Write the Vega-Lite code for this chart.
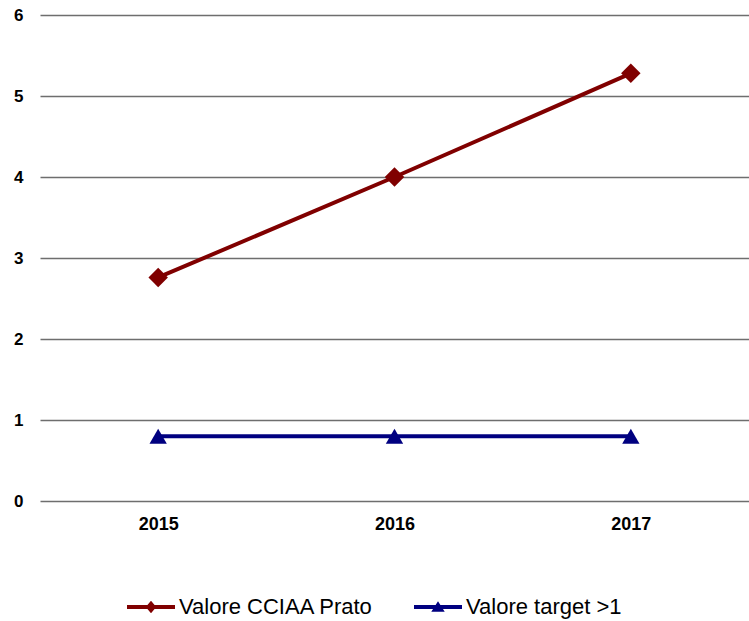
{
  "$schema": "https://vega.github.io/schema/vega-lite/v6.json",
  "width": 709,
  "height": 486,
  "autosize": {"type": "none"},
  "padding": {"left": 40, "top": 15, "right": 0, "bottom": 120},
  "background": "white",
  "config": {
    "view": {"stroke": null},
    "font": "Liberation Sans"
  },
  "data": {
    "values": [
      {"year": "2015", "series": "Valore CCIAA Prato", "value": 2.76},
      {"year": "2016", "series": "Valore CCIAA Prato", "value": 4.0},
      {"year": "2017", "series": "Valore CCIAA Prato", "value": 5.28},
      {"year": "2015", "series": "Valore target >1", "value": 0.8},
      {"year": "2016", "series": "Valore target >1", "value": 0.8},
      {"year": "2017", "series": "Valore target >1", "value": 0.8}
    ]
  },
  "encoding": {
    "x": {
      "field": "year", "type": "ordinal",
      "scale": {"type": "point", "padding": 0.5},
      "axis": {"title": null, "labelAngle": 0, "ticks": false, "domain": false, "grid": false,
               "labelFontSize": 18, "labelFontWeight": 600, "labelColor": "#000", "labelPadding": 14}
    },
    "y": {
      "field": "value", "type": "quantitative",
      "scale": {"domain": [0, 6], "nice": false},
      "axis": {"title": null, "values": [0, 1, 2, 3, 4, 5, 6], "ticks": false, "domain": false,
               "grid": true, "gridColor": "#6e6e6e", "gridWidth": 1.3, "gridOpacity": 1,
               "labelFontSize": 17, "labelFontWeight": 600, "labelColor": "#000", "labelPadding": 17}
    },
    "color": {
      "field": "series", "type": "nominal",
      "scale": {"domain": ["Valore CCIAA Prato", "Valore target >1"], "range": ["#800000", "#000080"]},
      "legend": {
        "orient": "none", "legendX": 87, "legendY": 568, "direction": "horizontal",
        "title": null, "padding": 0, "symbolSize": 2304, "symbolStrokeWidth": 0,
        "labelFontSize": 22, "labelColor": "#000", "labelOffset": 4, "columnPadding": 40, "labelLimit": 0,
        "encode": {
          "symbols": {
            "update": {
              "shape": {"signal": "datum.value === 'Valore CCIAA Prato' ? 'M-1,-0.08 L1,-0.08 L1,0.08 L-1,0.08 Z M0,-0.26 L0.22,0 L0,0.26 L-0.22,0 Z' : 'M-1,-0.08 L1,-0.08 L1,0.08 L-1,0.08 Z M0,-0.24 L0.28,0.2 L-0.28,0.2 Z'"},
              "fill": {"scale": "color", "field": "value"},
              "strokeWidth": {"value": 0},
              "opacity": {"value": 1}
            }
          }
        }
      }
    }
  },
  "layer": [
    {
      "mark": {"type": "line", "strokeWidth": 4}
    },
    {
      "transform": [{"filter": "datum.series === 'Valore CCIAA Prato'"}],
      "mark": {"type": "point", "filled": true, "opacity": 1, "size": 380, "shape": "diamond"}
    },
    {
      "transform": [{"filter": "datum.series === 'Valore target >1'"}],
      "mark": {"type": "point", "filled": true, "opacity": 1, "size": 300, "shape": "triangle-up"}
    }
  ]
}
